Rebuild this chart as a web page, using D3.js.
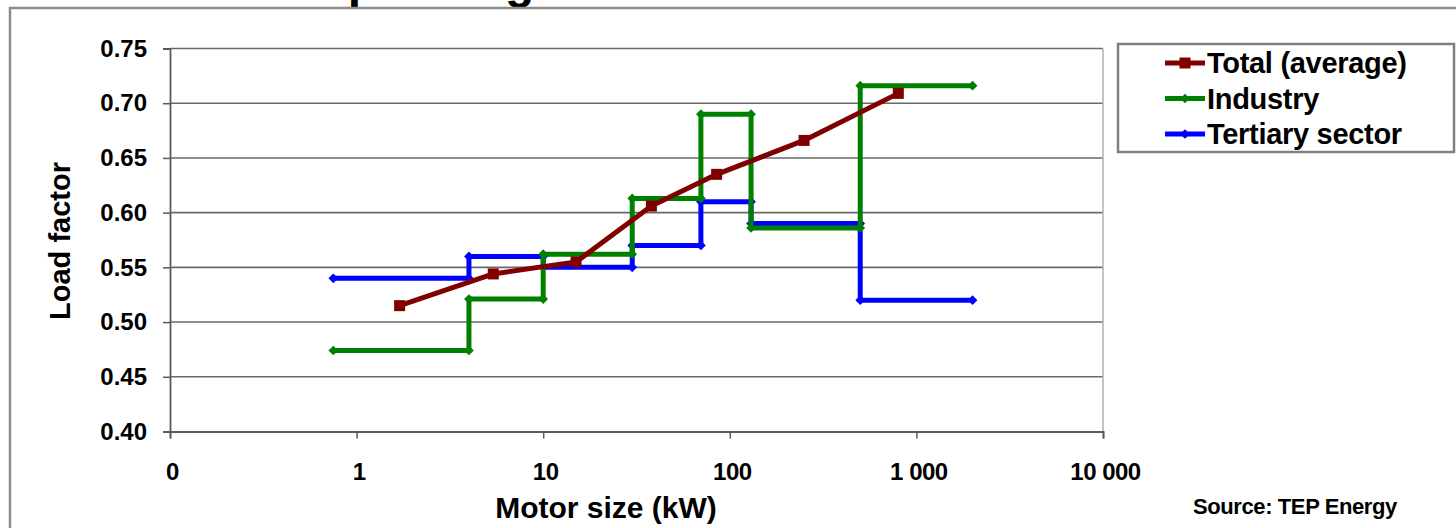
<!DOCTYPE html>
<html>
<head>
<meta charset="utf-8">
<script src="https://cdn.jsdelivr.net/npm/d3@7"></script>
<style>
	html, body { margin: 0; padding: 0; background: #fff; }
	svg { display: block; font-family: "Liberation Sans", Arial, sans-serif; font-weight: bold; }
</style>
</head>
<body>
<div id="chart"></div>
<script>
const width = 1456;
const height = 528;

// motor size classes (kW) and load factors
const totalX = [1.7, 5.4, 15, 38, 85, 250, 800];
const totalY = [0.515, 0.544, 0.555, 0.606, 0.635, 0.666, 0.709];

const industryX = [0.75, 4, 4, 10, 10, 30, 30, 70, 70, 130, 130, 500, 500, 2000];
const industryY = [0.474, 0.474, 0.521, 0.521, 0.562, 0.562, 0.613, 0.613, 0.69, 0.69, 0.586, 0.586, 0.716, 0.716];

const tertiaryX = [0.75, 4, 4, 10, 10, 30, 30, 70, 70, 130, 130, 500, 500, 2000];
const tertiaryY = [0.54, 0.54, 0.56, 0.56, 0.55, 0.55, 0.57, 0.57, 0.61, 0.61, 0.59, 0.59, 0.52, 0.52];

const xTicks = [0.1, 1, 10, 100, 1000, 10000];
const xTickLabels = ["0", "1", "10", "100", "1 000", "10 000"];
const yTicks = [0.40, 0.45, 0.50, 0.55, 0.60, 0.65, 0.70, 0.75];

const seriesNames = ["Total (average)", "Industry", "Tertiary sector"];
const seriesColors = ["#800000", "#008000", "#0000ff"];

const series = [
	{ name: seriesNames[0], color: seriesColors[0], xs: totalX, ys: totalY, marker: "square" },
	{ name: seriesNames[1], color: seriesColors[1], xs: industryX, ys: industryY, marker: "diamond" },
	{ name: seriesNames[2], color: seriesColors[2], xs: tertiaryX, ys: tertiaryY, marker: "diamond" },
];

let svg = d3
	.select("#chart")
	.append("svg")
	.attr("width", width)
	.attr("height", height);

// slide title, cut off at the top in the original: only the descenders show
svg.append("text")
	.attr("x", 17)
	.attr("y", -2)
	.attr("font-size", "48px")
	.text("Load factor depending on motor size");

// outer frame
svg.append("rect")
	.attr("x", 10)
	.attr("y", 8)
	.attr("width", 1600)
	.attr("height", 700)
	.attr("fill", "none")
	.attr("stroke", "#8c8c8c")
	.attr("stroke-width", 2.5);

const x = d3.scaleLog().domain([0.1, 10000]).range([170, 1103]);
const y = d3.scaleLinear().domain([0.40, 0.75]).range([431.5, 48.5]);

// gridlines
svg.append("g")
	.selectAll("line")
	.data(yTicks.slice(1))
	.join("line")
	.attr("x1", x(0.1))
	.attr("x2", x(10000))
	.attr("y1", (d) => y(d))
	.attr("y2", (d) => y(d))
	.attr("stroke", "#6a6a6a")
	.attr("stroke-width", 1.6);

// right edge of plot area
svg.append("line")
	.attr("x1", x(10000))
	.attr("x2", x(10000))
	.attr("y1", y(0.75))
	.attr("y2", y(0.40))
	.attr("stroke", "#b0b0b0")
	.attr("stroke-width", 1.5);

const yAxis = svg.append("g")
	.attr("transform", "translate(" + x(0.1) + ",0)")
	.call(d3.axisLeft(y).tickValues(yTicks).tickSize(7).tickPadding(16).tickFormat(d3.format(".2f")));

const xAxis = svg.append("g")
	.attr("transform", "translate(0," + y(0.40) + ")")
	.call(d3.axisBottom(x).tickValues(xTicks).tickSize(7).tickPadding(24)
		.tickFormat((d, i) => xTickLabels[i]));

[yAxis, xAxis].forEach((ax) => {
	ax.select(".domain").attr("stroke", "#5a5a5a").attr("stroke-width", 1.8);
	ax.selectAll(".tick line").attr("stroke", "#5a5a5a").attr("stroke-width", 1.5);
	ax.selectAll(".tick text")
		.attr("fill", "#000")
		.attr("font-size", "24px")
		.attr("font-family", "Liberation Sans, Arial, sans-serif")
		.attr("font-weight", "bold");
});
xAxis.selectAll(".tick text").attr("dx", 2).attr("letter-spacing", "-0.5px");

// axis titles
svg.append("text")
	.attr("x", 606)
	.attr("y", 518)
	.attr("text-anchor", "middle")
	.attr("font-size", "30px")
	.text("Motor size (kW)");

svg.append("text")
	.attr("transform", "translate(70,241) rotate(-90)")
	.attr("text-anchor", "middle")
	.attr("font-size", "29px")
	.text("Load factor");

const line = d3.line().x((d) => x(d[0])).y((d) => y(d[1]));

function drawMarker(g, marker, color, cx, cy) {
	if (marker === "square") {
		g.append("rect")
			.attr("x", cx - 5.5)
			.attr("y", cy - 5.5)
			.attr("width", 11)
			.attr("height", 11)
			.attr("fill", color);
	} else {
		g.append("path")
			.attr("d", d3.symbol(d3.symbolDiamond2, 60)())
			.attr("transform", "translate(" + cx + "," + cy + ")")
			.attr("fill", color);
	}
}

// tertiary first, then industry, total on top
series.slice().reverse().forEach((s) => {
	const pts = s.xs.map((v, i) => [v, s.ys[i]]);
	const g = svg.append("g");
	g.append("path")
		.attr("d", line(pts))
		.attr("fill", "none")
		.attr("stroke", s.color)
		.attr("stroke-width", 5)
		.attr("stroke-linejoin", "round");
	pts.forEach((p) => drawMarker(g, s.marker, s.color, x(p[0]), y(p[1])));
});

// legend
const legend = svg.append("g");
legend.append("rect")
	.attr("x", 1118)
	.attr("y", 44)
	.attr("width", 336)
	.attr("height", 108)
	.attr("fill", "#fff")
	.attr("stroke", "#808080")
	.attr("stroke-width", 2.5);

series.forEach((s, i) => {
	const cy = 63 + i * 35.5;
	legend.append("line")
		.attr("x1", 1165)
		.attr("x2", 1205)
		.attr("y1", cy)
		.attr("y2", cy)
		.attr("stroke", s.color)
		.attr("stroke-width", 5);
	drawMarker(legend, s.marker, s.color, 1185, cy);
	legend.append("text")
		.attr("x", 1207)
		.attr("y", cy + 10)
		.attr("font-size", "29px")
		.attr("letter-spacing", "-0.3px")
		.text(s.name);
});

svg.append("text")
	.attr("x", 1193)
	.attr("y", 514)
	.attr("font-size", "22px")
	.attr("letter-spacing", "-0.4px")
	.text("Source: TEP Energy");
</script>
</body>
</html>
